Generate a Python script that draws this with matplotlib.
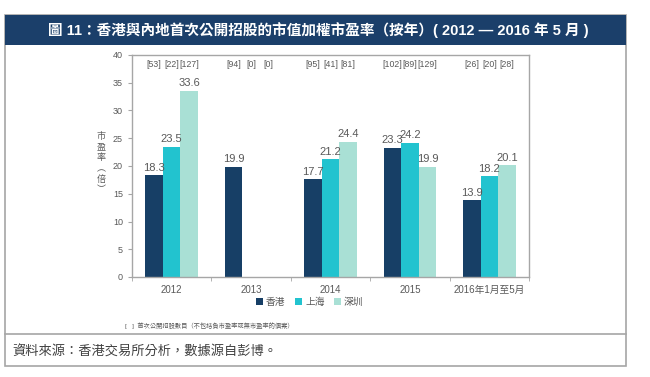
import numpy as np
import matplotlib
matplotlib.use("Agg")
import matplotlib.pyplot as plt
from matplotlib.patches import Rectangle
from matplotlib.lines import Line2D

# Arial-like digits, CJK falls through to Noto
plt.rcParams['font.family'] = ['Liberation Sans', 'Noto Sans CJK TC', 'DejaVu Sans']

# data
categories = ["2012", "2013", "2014", "2015", "2016年1月至5月"]
series_names = ["香港", "上海", "深圳"]
hk = [18.3, 19.9, 17.7, 23.3, 13.9]
sh = [23.5, None, 21.2, 24.2, 18.2]
sz = [33.6, None, 24.4, 19.9, 20.1]
ipo_counts = [["53", "22", "127"], ["94", "0", "0"], ["95", "41", "81"],
              ["102", "89", "129"], ["26", "20", "28"]]

COLOURS = ["#173f66", "#22c3cf", "#a9e0d5"]
GREY_TXT = "#595959"
FRAME = "#a6a6a6"
TITLE_BG = "#1b3f6a"

fig = plt.figure(figsize=(6.5, 3.77), dpi=100)

# outer frame, title bar and source strip
fig.patches.append(Rectangle((5 / 650, 1 - 366 / 377), 621 / 650, 351 / 377,
                             transform=fig.transFigure, fill=False,
                             edgecolor=FRAME, lw=1.2))
fig.patches.append(Rectangle((5 / 650, 1 - 45 / 377), 621 / 650, 30 / 377,
                             transform=fig.transFigure, facecolor=TITLE_BG,
                             edgecolor="none"))
fig.lines.append(Line2D([5 / 650, 626 / 650], [1 - 334 / 377, 1 - 334 / 377],
                        transform=fig.transFigure, color=FRAME, lw=1.2))
fig.text(318 / 650, 1 - 30 / 377,
         "圖 11：香港與內地首次公開招股的市值加權市盈率（按年）( 2012 — 2016 年 5 月 )",
         color="white", fontsize=10.5, fontweight="bold", ha="center", va="center")
fig.text(12 / 650, 1 - 352 / 377, "資料來源：香港交易所分析，數據源自彭博。",
         color="#404040", fontsize=9.5, ha="left", va="center")

ax = fig.add_axes([132 / 650, 1 - 277 / 377, 397 / 650, 222 / 377])

x = np.arange(len(categories))
width = 0.22
all_series = [hk, sh, sz]
for k, (vals, name, col) in enumerate(zip(all_series, series_names, COLOURS)):
    xs = x + (k - 1) * width
    heights = [v if v is not None else 0 for v in vals]
    ax.bar(xs, heights, width=width, color=col, label=name)
    for xi, v in zip(xs, vals):
        if v is not None:
            ax.text(xi, v + 0.4, f"{v:.1f}", ha="center", va="bottom",
                    fontsize=8, color=GREY_TXT)

# number of IPOs in brackets along the top
for i, counts in enumerate(ipo_counts):
    for k, c in enumerate(counts):
        ax.text(x[i] + (k - 1) * width, 38.3, f"[{c}]", ha="center",
                va="center", fontsize=6.3, color=GREY_TXT)

ax.set_xlim(-0.5, len(categories) - 0.5)
ax.set_ylim(0, 40)
ax.set_yticks(np.arange(0, 41, 5))
ax.set_xticks(x)
ax.set_xticklabels(categories)
ax.set_xticks(np.arange(-0.5, len(categories), 1), minor=True)
ax.tick_params(axis="x", which="major", length=0, pad=6, labelsize=7,
               labelcolor=GREY_TXT)
ax.tick_params(axis="x", which="minor", length=3, color=FRAME)
ax.tick_params(axis="y", length=3, color=FRAME, labelsize=6.5,
               labelcolor=GREY_TXT)
for side in ["left", "right", "top", "bottom"]:
    ax.spines[side].set_color(FRAME)
    ax.spines[side].set_linewidth(1.0)

fig.text(101 / 650, 1 - 163 / 377, "\n".join("市盈率︵倍︶"), fontsize=6.5,
         color=GREY_TXT, ha="center", va="center", linespacing=1.25,
         family=['Noto Sans CJK TC'])

fig.legend(loc="center", bbox_to_anchor=(310 / 650, 1 - 302 / 377), ncol=3,
           frameon=False, fontsize=7, handlelength=0.7, handleheight=0.7,
           handletextpad=0.3, columnspacing=1.0, labelcolor=GREY_TXT)

fig.text(125 / 650, 1 - 326 / 377,
         "[   ]  首次公開招股數目（不包括負市盈率或無市盈率的個案）",
         fontsize=4.5, color=GREY_TXT, ha="left", va="center")

fig.savefig("out.png", dpi=100)
